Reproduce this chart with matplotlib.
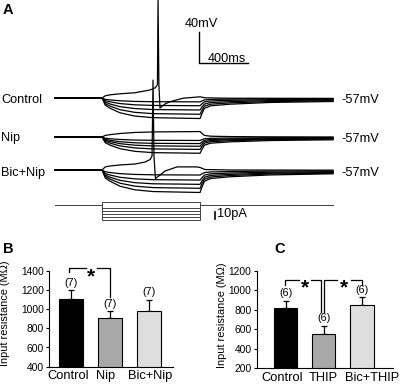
import matplotlib
matplotlib.use("Agg")
import matplotlib.pyplot as plt

plt.rcParams["font.family"] = ["Liberation Sans", "DejaVu Sans"]

# ---------------------------------------------------------
# Panel A: voltage responses to current steps
# ---------------------------------------------------------
# shared time points (ms) for the hyperpolarising traces
t_hyp = [0, 384, 410, 450, 530, 650, 800, 1184, 1200, 1220, 1270, 1430, 1750, 2270]

control_hyp = [
    [-57, -57, -58.8, -59.5, -60.6, -61.4, -61.8, -62.0, -60.8, -59.5, -58.9, -58.5, -58.1, -57.9],
    [-57, -57, -60.5, -62.0, -64.2, -65.8, -66.6, -67.0, -64.5, -62.0, -60.8, -60.0, -59.2, -58.7],
    [-57, -57, -62.4, -64.8, -68.2, -70.6, -71.9, -72.5, -68.6, -64.8, -62.9, -61.7, -60.4, -59.6],
    [-57, -57, -64.4, -67.5, -72.1, -75.5, -77.2, -78.0, -72.8, -67.5, -65.0, -63.3, -61.6, -60.6],
    [-57, -57, -66.3, -70.3, -76.1, -80.3, -82.4, -83.5, -76.9, -70.3, -67.1, -65.0, -62.8, -61.5],
]
nip_hyp = [
    [-57, -57, -58.6, -59.3, -60.2, -61.0, -61.3, -61.5, -60.4, -59.3, -58.7, -58.4, -58.0, -57.8],
    [-57, -57, -60.0, -61.3, -63.1, -64.5, -65.2, -65.5, -63.4, -61.3, -60.2, -59.6, -58.9, -58.5],
    [-57, -57, -61.2, -63.0, -65.6, -67.6, -68.5, -69.0, -66.0, -63.0, -61.6, -60.6, -59.6, -59.0],
    [-57, -57, -62.6, -65.0, -68.5, -71.1, -72.4, -73.0, -69.0, -65.0, -63.1, -61.8, -60.5, -59.7],
    [-57, -57, -64.4, -67.5, -72.1, -75.5, -77.2, -78.0, -72.8, -67.5, -65.0, -63.3, -61.6, -60.6],
]
bicnip_hyp = [
    [-57, -57, -59.3, -60.3, -61.7, -62.7, -63.2, -63.5, -61.9, -60.3, -59.5, -59.0, -58.4, -58.1],
    [-57, -57, -61.6, -63.5, -66.4, -68.4, -69.5, -70.0, -66.8, -63.5, -61.9, -60.9, -59.9, -59.2],
    [-57, -57, -63.5, -66.3, -70.3, -73.3, -74.8, -75.5, -70.9, -66.3, -64.0, -62.6, -61.1, -60.2],
    [-57, -57, -65.3, -68.8, -74.0, -77.8, -79.7, -80.6, -74.7, -68.8, -66.0, -64.1, -62.2, -61.0],
    [-57, -57, -67.2, -71.5, -77.9, -82.5, -84.8, -86.0, -78.8, -71.5, -68.0, -65.7, -63.4, -61.9],
]
nip_dep = [-57, -57, -55.0, -54.0, -52.5, -51.2, -50.5, -50.0, -52.5, -55.0, -56.0, -56.5, -56.8, -57.0]

# depolarising traces with an action potential
control_dep_t = [0, 384, 410, 450, 530, 650, 776, 817, 836, 841, 848, 857, 898, 939, 1045, 1184, 1225, 1430, 2270]
control_dep_v = [-57, -57, -54.2, -52.9, -51.6, -50.3, -46.7, -44.0, -40, 70, -40, -70, -64.7, -61.8, -57.3, -55.5, -56.8, -57.3, -57.5]
bicnip_dep_t = [0, 384, 410, 450, 530, 653, 735, 776, 792, 800, 808, 820, 857, 898, 996, 1159, 1184, 1225, 1430, 2270]
bicnip_dep_v = [-57, -57, -53.0, -51.8, -50.5, -49.3, -46.7, -43.5, -39, 59, -40, -68, -63.5, -58.3, -53.0, -53.0, -53.8, -56.4, -57.0, -57.2]

# injected current steps (pA)
current_t = [0, 384, 1184, 2270]
current_steps = [4, -4, -8, -12, -16, -20]

# ---------------------------------------------------------
# Panels B and C: input resistance (MOhm)
# ---------------------------------------------------------
b_labels = ["Control", "Nip", "Bic+Nip"]
b_means = [1100, 905, 985]
b_sem = [97, 70, 112]
b_n = [7, 7, 7]

c_labels = ["Control", "THIP", "Bic+THIP"]
c_means = [815, 553, 848]
c_sem = [80, 82, 80]
c_n = [6, 6, 6]

bar_colors = ["black", "#a8a8a8", "#dedede"]


def fx(px):
    return px / 400.0


def fy(py):
    return 1 - py / 389.0


fig = plt.figure(figsize=(4.0, 3.89), dpi=100)

# ---------------------------------------------------------
# Panel A
# ---------------------------------------------------------
axA = fig.add_axes([0, fy(230), 1, 230 / 389.0])
axA.set_xlim(-449, 2816)
axA.set_ylim(-227.3, 69.4)
axA.axis("off")

lw = 0.9
offsets = [0, -50.3, -92.9]
for traces, off in zip([control_hyp, nip_hyp, bicnip_hyp], offsets):
    for v in traces:
        axA.plot(t_hyp, [x + off for x in v], color="black", lw=lw)
axA.plot(control_dep_t, control_dep_v, color="black", lw=lw)
axA.plot(t_hyp, [x + offsets[1] for x in nip_dep], color="black", lw=lw)
axA.plot(bicnip_dep_t, [x + offsets[2] for x in bicnip_dep_v], color="black", lw=lw)

# current steps
i_base = -195
i_scale = 0.98
for s in current_steps:
    axA.plot(current_t, [i_base, i_base + s * i_scale, i_base, i_base],
             drawstyle="steps-post", color="#444444", lw=0.7)
axA.plot([1306, 1306], [i_base - 8.8 * i_scale, i_base - 18.8 * i_scale], color="black", lw=1.2)

# scale bars
axA.plot([1175, 1175, 1575], [28.1, -11.9, -11.9], color="black", lw=1.0)

fs = 9.2
fig.text(fx(3), fy(10), "A", fontsize=10.5, fontweight="bold", va="center")
for name, py in [("Control", 100), ("Nip", 138.5), ("Bic+Nip", 173)]:
    fig.text(fx(1.5), fy(py), name, fontsize=fs, va="center")
    fig.text(fx(341.5), fy(py), "-57mV", fontsize=fs, va="center")
fig.text(fx(185), fy(24), "40mV", fontsize=fs, va="center")
fig.text(fx(208), fy(59), "400ms", fontsize=fs, va="center")
fig.text(fx(217), fy(214.5), "10pA", fontsize=fs, va="center")


# ---------------------------------------------------------
# Panels B and C
# ---------------------------------------------------------
def bar_panel(ax, means, sem, n, labels, label_pos, ylim, yticks):
    x = list(range(len(means)))
    ax.bar(x, means, width=0.62, color=bar_colors, edgecolor="black", linewidth=0.8, zorder=2)
    ax.errorbar(x, means, yerr=[[0] * len(sem), sem], fmt="none", ecolor="black",
                elinewidth=0.9, capsize=2.2, capthick=0.9, zorder=1)
    for i in x:
        ax.annotate("(%d)" % n[i], (i, means[i] + sem[i]), xytext=(0, 5.5),
                    textcoords="offset points", ha="center", va="center", fontsize=7.8)
    ax.set_ylim(*ylim)
    ax.set_yticks(yticks)
    ax.set_xticks(label_pos)
    ax.set_xticklabels(labels, fontsize=9.3)
    ax.tick_params(axis="x", length=0, pad=2.5)
    ax.tick_params(axis="y", length=2.2, width=0.8, labelsize=7.4, pad=1.5)
    for side in ["top", "right"]:
        ax.spines[side].set_visible(False)
    for side in ["left", "bottom"]:
        ax.spines[side].set_linewidth(0.8)


def bracket(ax, x0, x1, y, y0_end, y1_end, xs, gap):
    kw = dict(color="black", lw=0.9, clip_on=False)
    ax.plot([x0, x0, xs - gap], [y0_end, y, y], **kw)
    ax.plot([xs + gap, x1, x1], [y, y, y1_end], **kw)
    ax.annotate("*", (xs, y), xytext=(0, -6), textcoords="offset points",
                ha="center", va="center", fontsize=15, fontweight="bold",
                annotation_clip=False)


axB = fig.add_axes([fx(49), fy(366.7), 124 / 400.0, 96 / 389.0])
bar_panel(axB, b_means, b_sem, b_n, b_labels, [-0.08, 0.87, 2.02], (400, 1400), range(400, 1401, 200))
axB.set_xlim(-0.57, 2.61)
bracket(axB, -0.05, 1.0, 1425, 1386, 1130, 0.51, 0.14)

axC = fig.add_axes([fx(256.7), fy(368.3), 136.6 / 400.0, 97.3 / 389.0])
bar_panel(axC, c_means, c_sem, c_n, c_labels, [-0.09, 1.0, 2.28], (200, 1200), range(200, 1201, 200))
axC.set_xlim(-0.76, 2.83)
bracket(axC, -0.01, 0.93, 1107, 1056, 779, 0.51, 0.17)
bracket(axC, 1.02, 2.02, 1107, 779, 1056, 1.53, 0.18)

fig.text(fx(3), fy(248.5), "B", fontsize=10.5, fontweight="bold", va="center")
fig.text(fx(274), fy(248.5), "C", fontsize=10.5, fontweight="bold", va="center")
fig.text(fx(5.5), fy(313), "Input resistance (M\u03a9)", rotation=90, fontsize=7.9,
         ha="center", va="center")
fig.text(fx(221.7), fy(315), "Input resistance (M\u03a9)", rotation=90, fontsize=7.9,
         ha="center", va="center")

fig.savefig("out.png", dpi=100)
